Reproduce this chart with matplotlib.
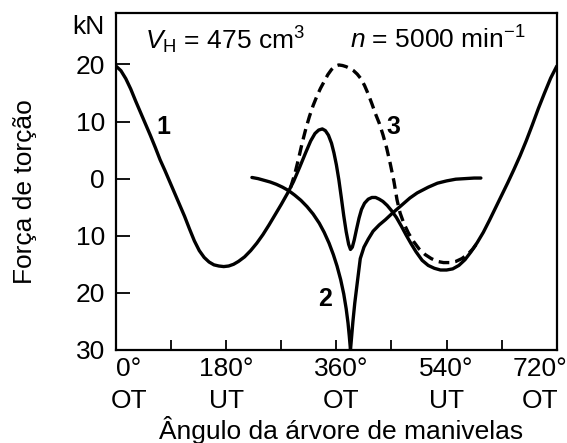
import numpy as np
import matplotlib
matplotlib.use('Agg')
import matplotlib.pyplot as plt
from matplotlib.ticker import MultipleLocator
from matplotlib.transforms import ScaledTranslation

plt.rcParams['font.family'] = ['Liberation Sans', 'DejaVu Sans']
plt.rcParams['mathtext.fontset'] = 'custom'
plt.rcParams['mathtext.rm'] = 'Liberation Sans'
plt.rcParams['mathtext.it'] = 'Liberation Sans:italic'

# curve 1 - solid, full cycle (kN over crank angle in degrees)
ang1 = [0, 8, 16, 24, 32, 40, 48, 56, 64, 72, 80, 88, 96, 104, 112, 120, 128,
        136, 144, 152, 160, 168, 176, 184, 192, 200, 210, 220, 230, 240, 250,
        260, 270, 280, 290, 300, 310, 318, 325, 331, 337, 342, 347, 352, 356,
        360, 364, 368, 372, 376, 380, 383, 386, 389, 393, 397, 401, 406, 412,
        418, 424, 430, 436, 443, 450, 458, 466, 474, 482, 490, 500, 510, 520,
        530, 540, 550, 560, 570, 580, 590, 600, 610, 620, 630, 640, 650, 660,
        670, 680, 690, 700, 710, 720]
f1 = [19.7, 18.9, 17.5, 15.7, 13.6, 11.6, 9.6, 7.6, 5.5, 3.3, 1.4, -0.6, -2.6,
      -4.6, -6.6, -8.8, -10.9, -12.6, -13.8, -14.6, -15.1, -15.3, -15.4, -15.3,
      -15.0, -14.5, -13.7, -12.6, -11.3, -9.8, -8.1, -6.3, -4.5, -2.6, -0.5,
      2.0, 4.6, 6.6, 7.9, 8.5, 8.7, 8.4, 7.6, 6.2, 4.5, 2.4, -0.2, -3.3, -6.5,
      -9.3, -11.5, -12.4, -12.0, -10.8, -8.8, -6.9, -5.4, -4.3, -3.6, -3.3,
      -3.3, -3.6, -4.0, -4.7, -5.6, -6.8, -8.3, -9.9, -11.4, -12.8, -14.3,
      -15.2, -15.7, -16.0, -16.0, -15.8, -15.2, -14.2, -12.8, -11.2, -9.4,
      -7.3, -5.1, -2.9, -0.7, 1.6, 4.0, 6.6, 9.4, 12.3, 15.0, 17.6, 19.7]

# curve 2 - solid, with the spike near OT
ang2 = [222, 232, 242, 252, 262, 272, 282, 292, 302, 312, 322, 332, 340, 348,
        355, 361, 367, 372, 376, 379, 381, 383, 385, 387, 390, 394, 399, 405,
        412, 420, 430, 440, 452, 465, 480, 492, 510, 525, 540, 555, 570, 585, 596]
f2 = [0.2, 0.0, -0.3, -0.6, -1.0, -1.5, -2.1, -2.9, -3.8, -4.9, -6.2, -7.8, -9.4,
      -11.3, -13.3, -15.3, -17.7, -20.2, -22.8, -25.3, -27.5, -30.0, -27.5,
      -25.0, -21.8, -18.3, -14.0, -12.0, -10.6, -9.2, -8.1, -7.2, -6.0, -4.8,
      -3.4, -2.5, -1.5, -0.8, -0.4, -0.1, 0.0, 0.1, 0.1]

# curve 3 - dashed
ang3 = [285, 292, 298, 304, 310, 316, 322, 328, 334, 340, 346, 352, 358, 364,
        370, 376, 382, 388, 394, 400, 406, 412, 418, 424, 430, 436, 442, 448,
        454, 459, 464, 470, 478, 486, 495, 505, 515, 525, 535, 545, 555, 565,
        575, 583, 590]
f3 = [-1.6, 0.8, 3.4, 6.2, 8.7, 10.9, 12.8, 14.4, 15.8, 17.0, 18.2, 19.1, 19.7,
      19.9, 19.8, 19.6, 19.3, 18.9, 18.3, 17.5, 16.3, 14.8, 13.1, 11.3, 9.7,
      7.7, 5.4, 2.6, -0.5, -3.7, -6.0, -7.8, -9.6, -11.0, -12.3, -13.3, -14.0,
      -14.5, -14.7, -14.7, -14.5, -14.0, -13.2, -12.3, -11.3]

yticks = [20, 10, 0, -10, -20, -30]
ytick_labels = ['20', '10', '0', '10', '20', '30']
xticks = [0, 180, 360, 540, 720]
xtick_labels = ['0°\nOT', '180°\nUT', '360°\nOT', '540°\nUT', '720°\nOT']
xlabel_shift = [0.13, 0.0, 0.05, 0.0, -0.17]  # inches, as in the original layout

fs = 19

fig = plt.figure(figsize=(5.67, 4.43), dpi=100)
ax = fig.add_axes([0.2046, 0.21, 0.7774, 0.7607])

ax.plot(ang1, f1, color='black', lw=2.4, solid_capstyle='round', solid_joinstyle='round')
ax.plot(ang2, f2, color='black', lw=2.4, solid_capstyle='round', solid_joinstyle='round')
ax.plot(ang3, f3, color='black', lw=2.4, linestyle=(0, (3.2, 1.8)))

ax.set_xlim(0, 720)
ax.set_ylim(-30, 29)
ax.set_xticks(xticks)
ax.set_xticklabels(xtick_labels, fontsize=fs, linespacing=1.42)
ax.xaxis.set_minor_locator(MultipleLocator(90))
ax.set_yticks(yticks)
ax.set_yticklabels(ytick_labels, fontsize=fs)
ax.tick_params(axis='both', which='both', direction='in', width=1.3, color='black')
ax.tick_params(axis='x', which='both', length=7, pad=5)
ax.tick_params(axis='y', length=10, pad=8)
for s in ax.spines.values():
    s.set_linewidth(1.6)

for lab, dx in zip(ax.get_xticklabels(), xlabel_shift):
    lab.set_transform(lab.get_transform() + ScaledTranslation(dx, 0, fig.dpi_scale_trans))

ax.text(77, 9.1, '1', fontsize=fs - 1, fontweight='bold', ha='center', va='center')
ax.text(342, -21.1, '2', fontsize=fs - 1, fontweight='bold', ha='center', va='center')
ax.text(453, 9.1, '3', fontsize=fs - 1, fontweight='bold', ha='center', va='center')

ax.text(0.066, 0.92, r'$V_\mathrm{H}$ = 475 cm$^3$', transform=ax.transAxes,
        fontsize=fs, ha='left', va='center')
ax.text(0.53, 0.92, r'$n$ = 5000 min$^{-1}$', transform=ax.transAxes,
        fontsize=fs, ha='left', va='center')
ax.text(-0.025, 0.958, 'kN', transform=ax.transAxes, fontsize=fs,
        ha='right', va='center')

fig.text(0.602, 0.029, 'Ângulo da árvore de manivelas', fontsize=fs,
         ha='center', va='center')
fig.text(0.044, 0.567, 'Força de torção', rotation=90, fontsize=fs,
         ha='center', va='center')

fig.savefig('out.png', dpi=100)
